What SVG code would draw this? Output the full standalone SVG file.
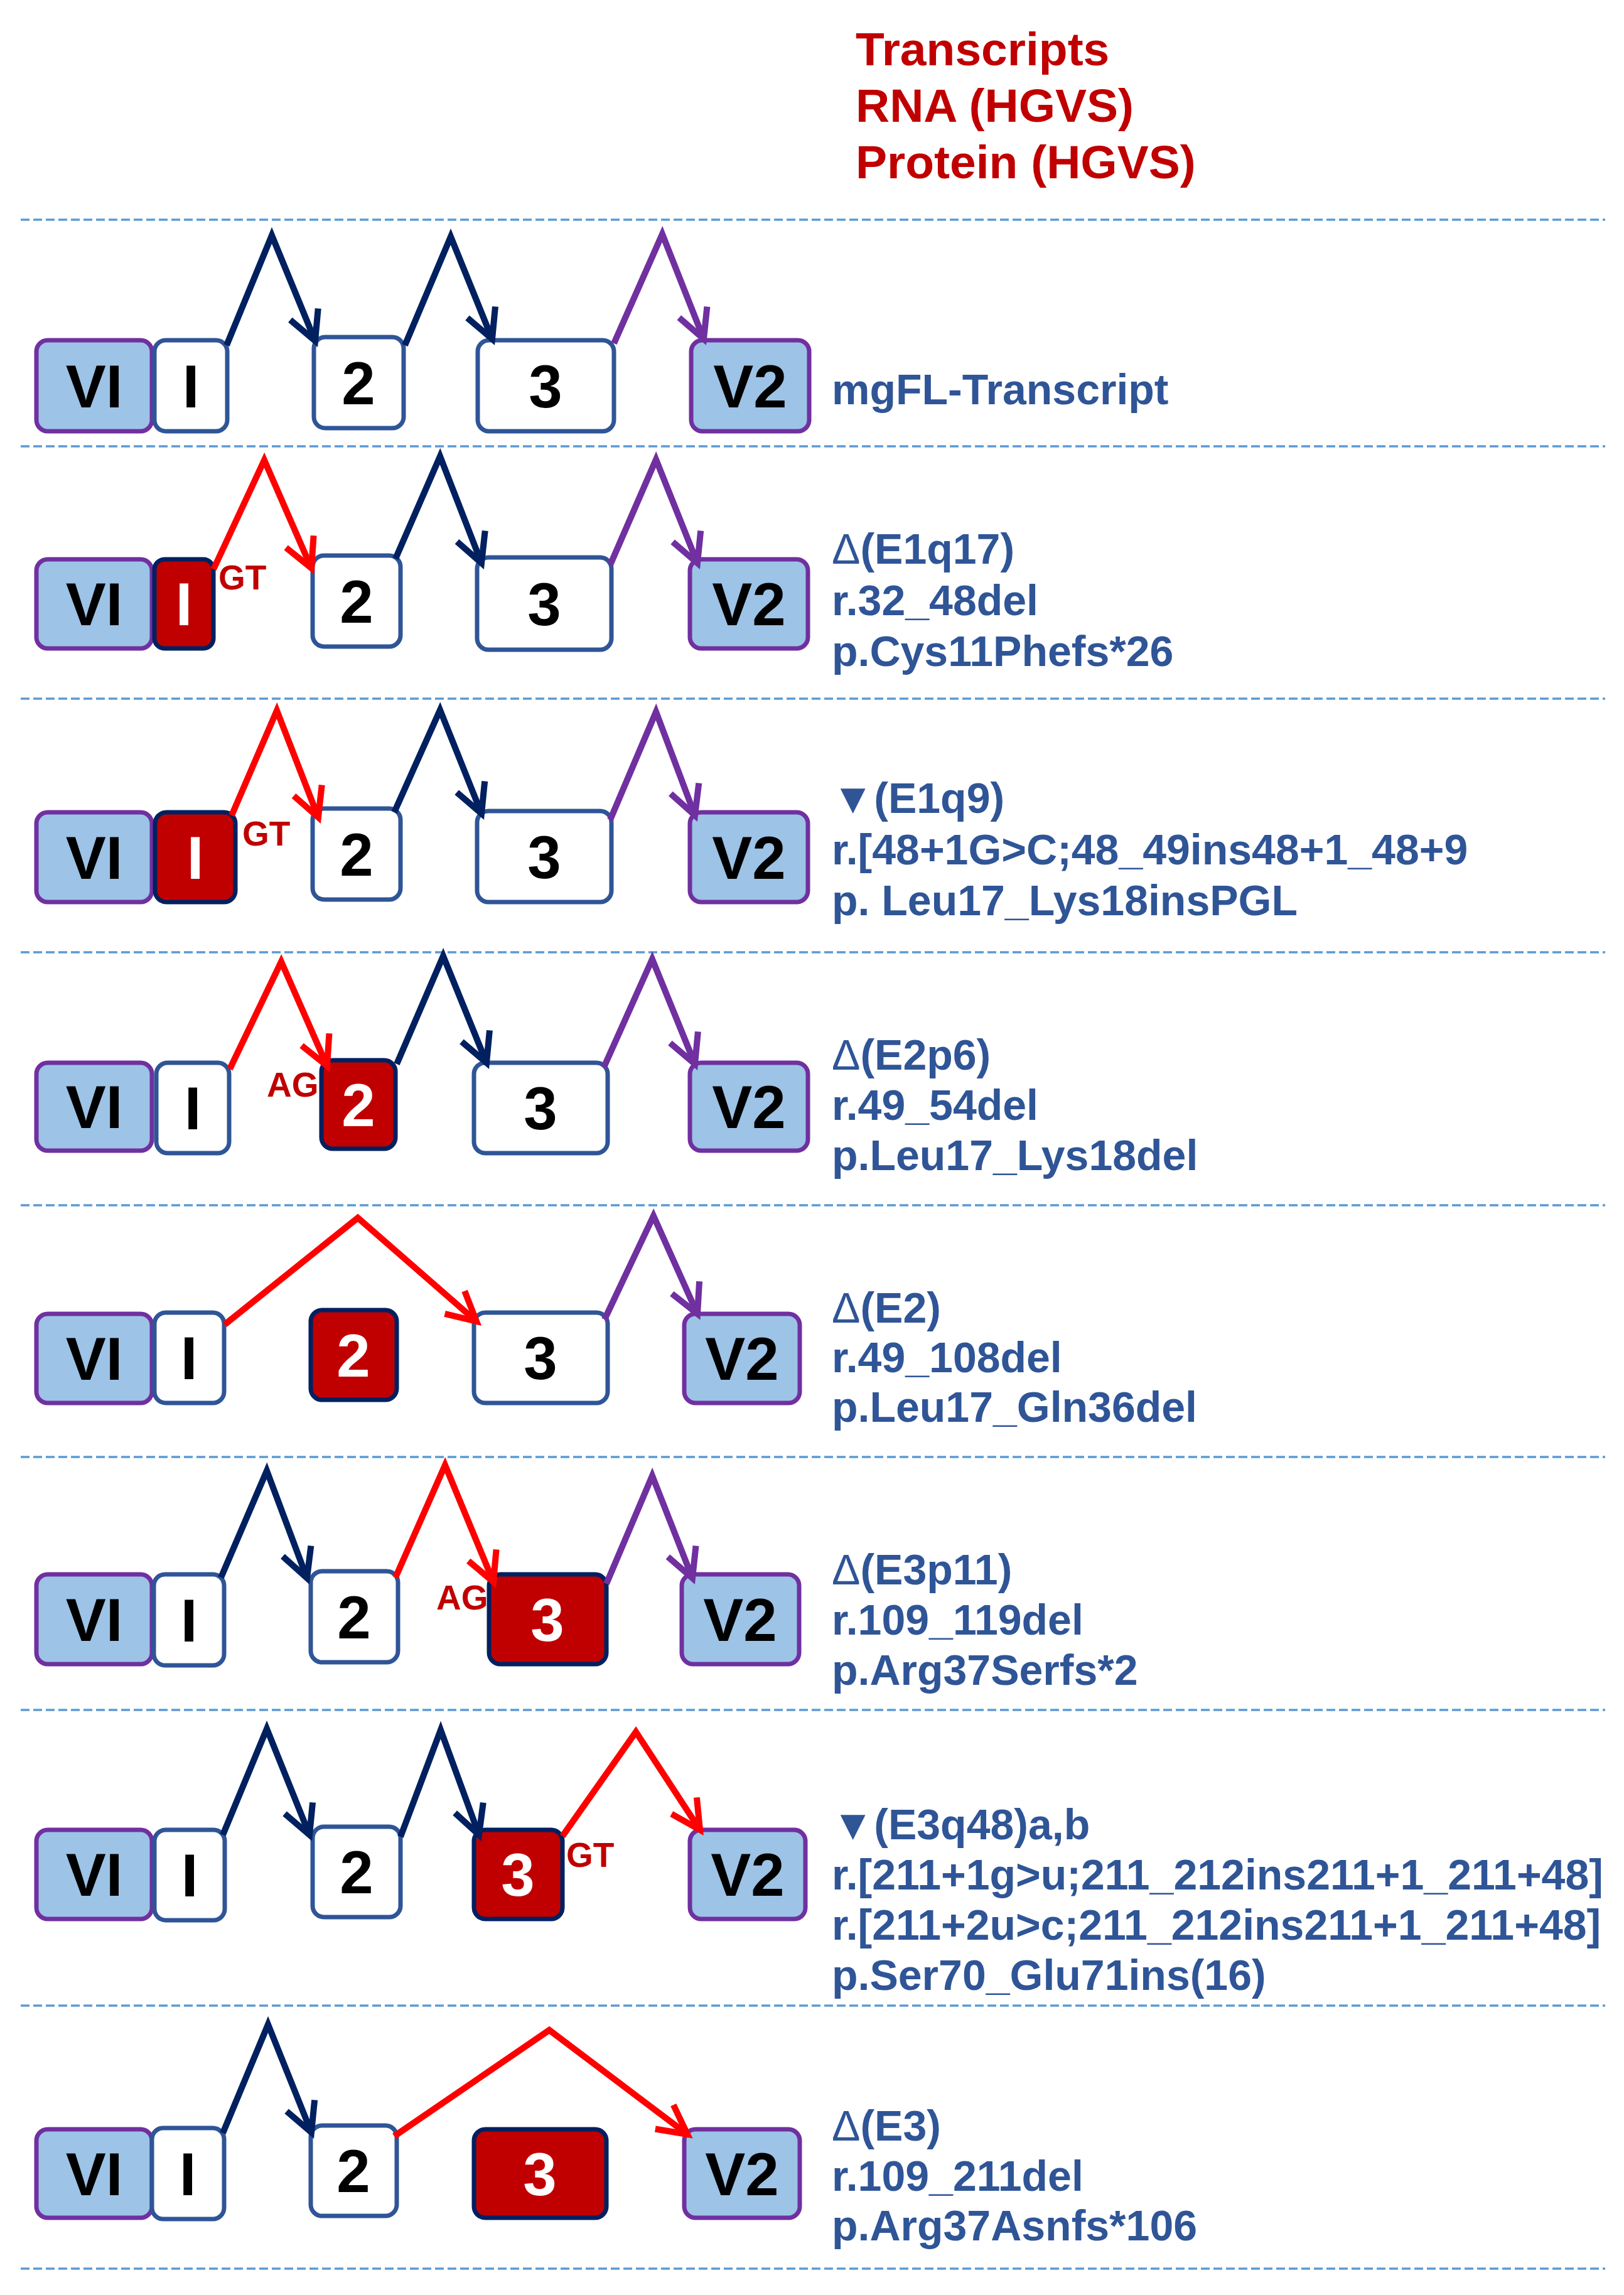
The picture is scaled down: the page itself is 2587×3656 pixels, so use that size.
<svg xmlns="http://www.w3.org/2000/svg" width="2587" height="3656" viewBox="0 0 2587 3656">
<style>
.sep{stroke:#5B9BD5;stroke-width:3.5;stroke-dasharray:14 6;fill:none}
.v{fill:#9DC3E6;stroke:#7030A0;stroke-width:7}
.e{fill:#FFFFFF;stroke:#2F5597;stroke-width:7}
.r{fill:#C00000;stroke:#002060;stroke-width:7}
.bl{font-family:"Liberation Sans",Arial,sans-serif;font-weight:bold;font-size:96px;text-anchor:middle;fill:#000}
.wl{font-family:"Liberation Sans",Arial,sans-serif;font-weight:bold;font-size:96px;text-anchor:middle;fill:#FFF}
.ss{font-family:"Liberation Sans",Arial,sans-serif;font-weight:bold;font-size:55px;fill:#C00000}
.hd{font-family:"Liberation Sans",Arial,sans-serif;font-weight:bold;font-size:75px;fill:#C00000}
.lb{font-family:"Liberation Sans","DejaVu Sans",Arial,sans-serif;font-weight:bold;font-size:68px;fill:#2F5597}
.dl{font-weight:normal}
.cn{fill:none;stroke-width:10;stroke-linejoin:miter;stroke-linecap:butt}
.nv{stroke:#002060;marker-end:url(#mN)}
.pu{stroke:#7030A0;marker-end:url(#mP)}
.rd{stroke:#FF0000;marker-end:url(#mR)}
</style>
<defs>
<marker id="mN" markerUnits="userSpaceOnUse" markerWidth="120" markerHeight="120" refX="60" refY="60" orient="auto" viewBox="0 0 120 120">
<path d="M14,36 L60,60 L14,84" fill="none" stroke="#002060" stroke-width="10" stroke-linejoin="miter"/>
</marker>
<marker id="mP" markerUnits="userSpaceOnUse" markerWidth="120" markerHeight="120" refX="60" refY="60" orient="auto" viewBox="0 0 120 120">
<path d="M14,36 L60,60 L14,84" fill="none" stroke="#7030A0" stroke-width="10" stroke-linejoin="miter"/>
</marker>
<marker id="mR" markerUnits="userSpaceOnUse" markerWidth="120" markerHeight="120" refX="60" refY="60" orient="auto" viewBox="0 0 120 120">
<path d="M14,36 L60,60 L14,84" fill="none" stroke="#FF0000" stroke-width="10" stroke-linejoin="miter"/>
</marker>
</defs>
<rect width="2587" height="3656" fill="#FFFFFF"/>

<g id="header">
<text class="hd" x="1363" y="104">Transcripts</text>
<text class="hd" x="1363" y="194">RNA (HGVS)</text>
<text class="hd" x="1363" y="284">Protein (HGVS)</text>
</g>

<g id="separators">
<line class="sep" x1="33" y1="350" x2="2557" y2="350"/>
<line class="sep" x1="33" y1="711" x2="2557" y2="711"/>
<line class="sep" x1="33" y1="1113" x2="2557" y2="1113"/>
<line class="sep" x1="33" y1="1517" x2="2557" y2="1517"/>
<line class="sep" x1="33" y1="1920" x2="2557" y2="1920"/>
<line class="sep" x1="33" y1="2321" x2="2557" y2="2321"/>
<line class="sep" x1="33" y1="2724" x2="2557" y2="2724"/>
<line class="sep" x1="33" y1="3195" x2="2557" y2="3195"/>
<line class="sep" x1="33" y1="3614" x2="2557" y2="3614"/>
</g>

<!-- Row 1 -->
<g id="r1-v1"><rect class="v" x="58" y="542" width="184" height="145" rx="18"/><text class="bl" x="150" y="649">VI</text></g>
<g id="r1-e1"><rect class="e" x="246" y="542" width="116" height="145" rx="18"/><text class="bl" x="304" y="649">I</text></g>
<g id="r1-e2"><rect class="e" x="500" y="537" width="143" height="145" rx="18"/><text class="bl" x="571" y="644">2</text></g>
<g id="r1-e3"><rect class="e" x="761" y="542" width="217" height="145" rx="18"/><text class="bl" x="869" y="649">3</text></g>
<g id="r1-v2"><rect class="v" x="1101" y="542" width="188" height="145" rx="18"/><text class="bl" x="1195" y="649">V2</text></g>
<g id="r1-label"><text class="lb" x="1325" y="644">mgFL-Transcript</text></g>

<!-- Row 2 -->
<g id="r2-v1"><rect class="v" x="58" y="891" width="184" height="142" rx="18"/><text class="bl" x="150" y="996">VI</text></g>
<g id="r2-e1"><rect class="r" x="246" y="891" width="94" height="142" rx="16"/><text class="wl" x="293" y="996">I</text></g>
<g id="r2-gt"><text class="ss" x="348" y="939">GT</text></g>
<g id="r2-e2"><rect class="e" x="498" y="885" width="140" height="145" rx="18"/><text class="bl" x="568" y="992">2</text></g>
<g id="r2-e3"><rect class="e" x="760" y="888" width="214" height="147" rx="18"/><text class="bl" x="867" y="996">3</text></g>
<g id="r2-v2"><rect class="v" x="1099" y="891" width="188" height="142" rx="18"/><text class="bl" x="1193" y="996">V2</text></g>
<g id="r2-label">
<text class="lb" x="1325" y="898"><tspan class="dl">Δ</tspan>(E1q17)</text>
<text class="lb" x="1325" y="980">r.32_48del</text>
<text class="lb" x="1325" y="1061">p.Cys11Phefs*26</text>
</g>

<!-- Row 3 -->
<g id="r3-v1"><rect class="v" x="58" y="1294" width="184" height="143" rx="18"/><text class="bl" x="150" y="1400">VI</text></g>
<g id="r3-e1"><rect class="r" x="247" y="1294" width="128" height="143" rx="18"/><text class="wl" x="311" y="1400">I</text></g>
<g id="r3-gt"><text class="ss" x="386" y="1347">GT</text></g>
<g id="r3-e2"><rect class="e" x="498" y="1288" width="140" height="145" rx="18"/><text class="bl" x="568" y="1395">2</text></g>
<g id="r3-e3"><rect class="e" x="760" y="1292" width="214" height="145" rx="18"/><text class="bl" x="867" y="1399">3</text></g>
<g id="r3-v2"><rect class="v" x="1099" y="1294" width="188" height="143" rx="18"/><text class="bl" x="1193" y="1400">V2</text></g>
<g id="r3-label">
<text class="lb" x="1325" y="1295">▼(E1q9)</text>
<text class="lb" x="1325" y="1377">r.[48+1G&gt;C;48_49ins48+1_48+9</text>
<text class="lb" x="1325" y="1458">p. Leu17_Lys18insPGL</text>
</g>

<!-- Row 4 -->
<g id="r4-v1"><rect class="v" x="58" y="1693" width="184" height="140" rx="18"/><text class="bl" x="150" y="1797">VI</text></g>
<g id="r4-e1"><rect class="e" x="249" y="1693" width="116" height="144" rx="18"/><text class="bl" x="307" y="1799">I</text></g>
<g id="r4-ag"><text class="ss" x="425" y="1747">AG</text></g>
<g id="r4-e2"><rect class="r" x="512" y="1689" width="118" height="141" rx="18"/><text class="wl" x="571" y="1794">2</text></g>
<g id="r4-e3"><rect class="e" x="755" y="1693" width="213" height="144" rx="18"/><text class="bl" x="861" y="1799">3</text></g>
<g id="r4-v2"><rect class="v" x="1099" y="1693" width="188" height="140" rx="18"/><text class="bl" x="1193" y="1797">V2</text></g>
<g id="r4-label">
<text class="lb" x="1325" y="1704"><tspan class="dl">Δ</tspan>(E2p6)</text>
<text class="lb" x="1325" y="1784">r.49_54del</text>
<text class="lb" x="1325" y="1864">p.Leu17_Lys18del</text>
</g>

<!-- Row 5 -->
<g id="r5-v1"><rect class="v" x="58" y="2093" width="184" height="142" rx="18"/><text class="bl" x="150" y="2198">VI</text></g>
<g id="r5-e1"><rect class="e" x="246" y="2091" width="111" height="144" rx="18"/><text class="bl" x="301" y="2197">I</text></g>
<g id="r5-e2"><rect class="r" x="495" y="2087" width="137" height="143" rx="18"/><text class="wl" x="563" y="2193">2</text></g>
<g id="r5-e3"><rect class="e" x="755" y="2091" width="213" height="144" rx="18"/><text class="bl" x="861" y="2197">3</text></g>
<g id="r5-v2"><rect class="v" x="1090" y="2093" width="184" height="142" rx="18"/><text class="bl" x="1182" y="2198">V2</text></g>
<g id="r5-label">
<text class="lb" x="1325" y="2107"><tspan class="dl">Δ</tspan>(E2)</text>
<text class="lb" x="1325" y="2186">r.49_108del</text>
<text class="lb" x="1325" y="2265">p.Leu17_Gln36del</text>
</g>

<!-- Row 6 -->
<g id="r6-v1"><rect class="v" x="58" y="2508" width="184" height="143" rx="18"/><text class="bl" x="150" y="2614">VI</text></g>
<g id="r6-e1"><rect class="e" x="245" y="2508" width="112" height="145" rx="18"/><text class="bl" x="301" y="2615">I</text></g>
<g id="r6-e2"><rect class="e" x="495" y="2503" width="139" height="145" rx="18"/><text class="bl" x="564" y="2610">2</text></g>
<g id="r6-ag"><text class="ss" x="695" y="2564">AG</text></g>
<g id="r6-e3"><rect class="r" x="779" y="2508" width="187" height="143" rx="18"/><text class="wl" x="872" y="2614">3</text></g>
<g id="r6-v2"><rect class="v" x="1086" y="2508" width="187" height="143" rx="18"/><text class="bl" x="1179" y="2614">V2</text></g>
<g id="r6-label">
<text class="lb" x="1325" y="2524"><tspan class="dl">Δ</tspan>(E3p11)</text>
<text class="lb" x="1325" y="2604">r.109_119del</text>
<text class="lb" x="1325" y="2684">p.Arg37Serfs*2</text>
</g>

<!-- Row 7 -->
<g id="r7-v1"><rect class="v" x="58" y="2915" width="184" height="142" rx="18"/><text class="bl" x="150" y="3020">VI</text></g>
<g id="r7-e1"><rect class="e" x="246" y="2915" width="112" height="144" rx="18"/><text class="bl" x="302" y="3021">I</text></g>
<g id="r7-e2"><rect class="e" x="498" y="2910" width="140" height="144" rx="18"/><text class="bl" x="568" y="3016">2</text></g>
<g id="r7-e3"><rect class="r" x="755" y="2915" width="141" height="142" rx="18"/><text class="wl" x="825" y="3020">3</text></g>
<g id="r7-gt"><text class="ss" x="902" y="2974">GT</text></g>
<g id="r7-v2"><rect class="v" x="1099" y="2915" width="184" height="142" rx="18"/><text class="bl" x="1191" y="3020">V2</text></g>
<g id="r7-label">
<text class="lb" x="1325" y="2930">▼(E3q48)a,b</text>
<text class="lb" x="1325" y="3010">r.[211+1g&gt;u;211_212ins211+1_211+48]</text>
<text class="lb" x="1325" y="3090">r.[211+2u&gt;c;211_212ins211+1_211+48]</text>
<text class="lb" x="1325" y="3170">p.Ser70_Glu71ins(16)</text>
</g>

<!-- Row 8 -->
<g id="r8-v1"><rect class="v" x="58" y="3392" width="184" height="141" rx="18"/><text class="bl" x="150" y="3497">VI</text></g>
<g id="r8-e1"><rect class="e" x="242" y="3390" width="115" height="145" rx="18"/><text class="bl" x="299" y="3497">I</text></g>
<g id="r8-e2"><rect class="e" x="495" y="3386" width="137" height="144" rx="18"/><text class="bl" x="563" y="3492">2</text></g>
<g id="r8-e3"><rect class="r" x="755" y="3392" width="211" height="141" rx="18"/><text class="wl" x="860" y="3497">3</text></g>
<g id="r8-v2"><rect class="v" x="1090" y="3392" width="184" height="141" rx="18"/><text class="bl" x="1182" y="3497">V2</text></g>
<g id="r8-label">
<text class="lb" x="1325" y="3410"><tspan class="dl">Δ</tspan>(E3)</text>
<text class="lb" x="1325" y="3490">r.109_211del</text>
<text class="lb" x="1325" y="3569">p.Arg37Asnfs*106</text>
</g>

<g id="connectors">
<polyline class="cn nv" points="361,550 433,375 502,543"/>
<polyline class="cn nv" points="645,550 718,377 784,540"/>
<polyline class="cn pu" points="978,547 1055,373 1121,540"/>

<polyline class="cn rd" points="340,907 421,733 496,905"/>
<polyline class="cn nv" points="630,890 701,727 767,897"/>
<polyline class="cn pu" points="972,900 1045,732 1111,897"/>

<polyline class="cn rd" points="369,1299 441,1132 507,1302"/>
<polyline class="cn nv" points="628,1294 701,1131 767,1296"/>
<polyline class="cn pu" points="972,1306 1045,1134 1107,1299"/>

<polyline class="cn rd" points="366,1703 448,1532 521,1698"/>
<polyline class="cn nv" points="632,1695 706,1523 775,1693"/>
<polyline class="cn pu" points="962,1700 1039,1528 1107,1695"/>

<polyline class="cn rd" points="358,2110 570,1940 759,2105"/>
<polyline class="cn pu" points="963,2102 1041,1937 1111,2093"/>

<polyline class="cn nv" points="352,2513 425,2343 489,2514"/>
<polyline class="cn rd" points="630,2513 709,2334 786,2520"/>
<polyline class="cn pu" points="966,2523 1039,2351 1103,2514"/>

<polyline class="cn nv" points="355,2923 425,2754 493,2923"/>
<polyline class="cn nv" points="638,2926 702,2756 763,2923"/>
<polyline class="cn rd" points="896,2925 1013,2759 1115,2915"/>

<polyline class="cn nv" points="355,3398 427,3225 496,3397"/>
<polyline class="cn rd" points="628,3403 875,3234 1095,3400"/>
</g>
</svg>
